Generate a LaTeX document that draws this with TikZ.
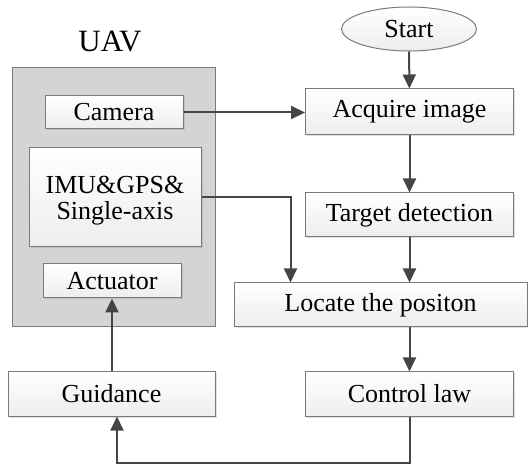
\documentclass[tikz,border=0pt]{standalone}
\usepackage{fontspec}
\setmainfont{Liberation Serif}
\usetikzlibrary{arrows.meta,shapes.geometric,shadows}
\definecolor{boxline}{HTML}{7A7A7A}
\definecolor{arrowc}{HTML}{454545}
\definecolor{uavfill}{HTML}{D4D4D4}
\tikzset{
  blk/.style={draw=boxline, line width=1pt, top color=white, bottom color=gray!14,
    drop shadow={opacity=0.25, shadow xshift=1.5pt, shadow yshift=-1.5pt},
    font=\fontsize{26}{26}\selectfont, inner sep=0pt, align=center, anchor=center},
  conn/.style={draw=arrowc, line width=2pt, -{Triangle[length=14pt,width=13pt]}},
}
\begin{document}
\begin{tikzpicture}[x=1pt,y=-1pt]
\useasboundingbox (0,0) rectangle (528,465);
% UAV container
\node[draw=boxline, fill=uavfill, line width=1pt, minimum width=203pt, minimum height=259pt, inner sep=0pt] (uav) at (113.5,197.5) {};
\node[font=\fontsize{31}{34}\selectfont] (uavlab) at (110,42) {UAV};
\node[blk, minimum width=138pt, minimum height=33pt] (cam) at (114,112.5) {Camera};
\node[blk, minimum width=172pt, minimum height=99pt, text depth=0pt] (imu) at (115,197.5) {IMU\&GPS\&\\Single-axis};
\node[blk, minimum width=138pt, minimum height=34pt] (act) at (112,281) {Actuator};
\node[blk, minimum width=207pt, minimum height=44pt] (guid) at (111.5,394) {Guidance};
% right column
\node[ellipse, draw=boxline, line width=1pt, top color=white, bottom color=gray!14,
  minimum width=135pt, minimum height=44pt, inner sep=0pt, font=\fontsize{26}{29}\selectfont] (start) at (409,29) {Start};
\node[blk, minimum width=208pt, minimum height=46pt] (acq) at (409.5,112) {Acquire image};
\node[blk, minimum width=208pt, minimum height=44pt] (tgt) at (409.5,215) {Target detection};
\node[blk, minimum width=293pt, minimum height=44pt] (loc) at (380.5,305) {Locate the positon};
\node[blk, minimum width=208pt, minimum height=44pt] (ctrl) at (409.5,394) {Control law};
% connectors
\draw[conn] (start) -- (acq);
\draw[conn] (cam.east) -- (cam.east -| acq.west);
\draw[conn] (acq) -- (tgt);
\draw[conn] (tgt) -- (tgt.south |- loc.north);
\draw[conn] (imu.east) -| ([xshift=57pt]loc.north west);
\draw[conn] (ctrl.north |- loc.south) -- (ctrl.north);
\draw[conn] (ctrl.south) -- ++(0,46) -| ([xshift=5.5pt]guid.south);
\draw[conn] (act.south |- guid.north) -- (act.south);
\end{tikzpicture}
\end{document}
